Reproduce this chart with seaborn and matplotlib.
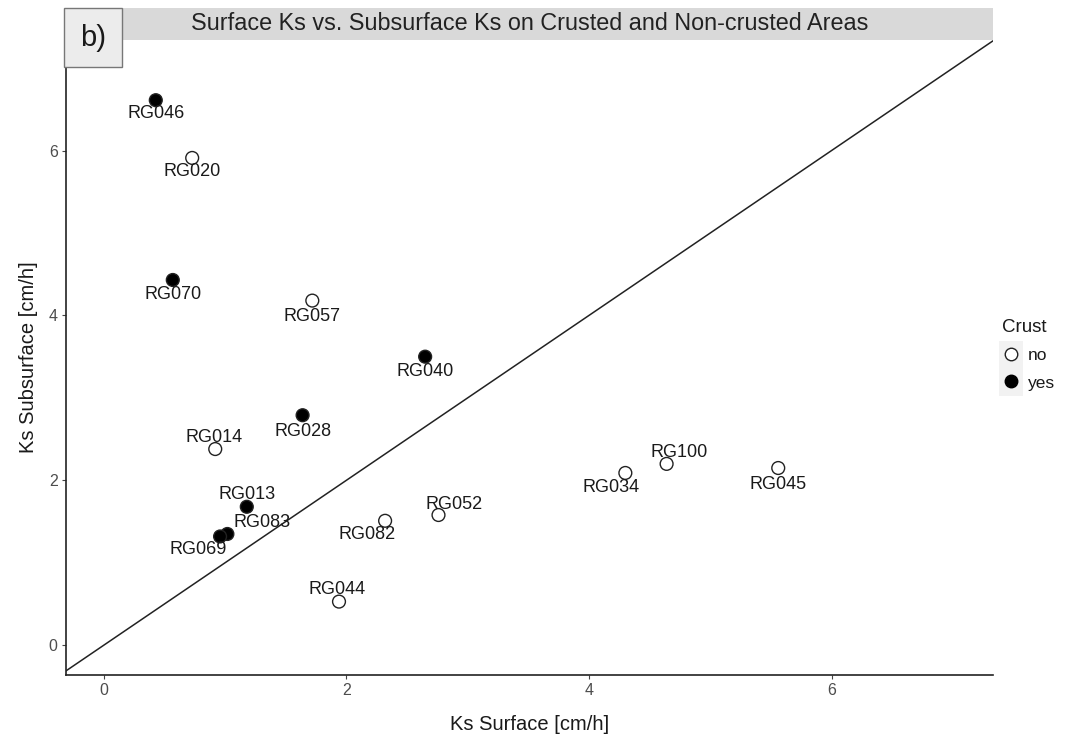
import matplotlib
matplotlib.use("Agg")
import matplotlib.pyplot as plt
from matplotlib.lines import Line2D
from matplotlib.patches import Rectangle
import seaborn as sns
import pandas as pd

# ---- data ----
sites = ["RG046", "RG020", "RG070", "RG057", "RG040", "RG028", "RG014", "RG013",
         "RG083", "RG069", "RG082", "RG052", "RG044", "RG034", "RG100", "RG045"]
ks_surface = [0.43, 0.73, 0.57, 1.72, 2.65, 1.64, 0.92, 1.18,
              1.02, 0.96, 2.32, 2.76, 1.94, 4.30, 4.64, 5.56]
ks_subsurface = [6.61, 5.91, 4.43, 4.18, 3.50, 2.79, 2.38, 1.68,
                 1.35, 1.32, 1.51, 1.58, 0.53, 2.09, 2.20, 2.15]
crust = ["yes", "no", "yes", "no", "yes", "yes", "no", "yes",
         "yes", "yes", "no", "no", "no", "no", "no", "no"]
crust_levels = ["no", "yes"]
ref_intercept = 0.0
ref_slope = 1.0
x_ticks = [0, 2, 4, 6]
y_ticks = [0, 2, 4, 6]

# label offsets (pixels) for repelled labels
label_offsets = {
    "RG046": (0, -13), "RG020": (0, -14), "RG070": (0, -15), "RG057": (0, -16),
    "RG040": (0, -15), "RG028": (0, -16), "RG014": (-1, 12), "RG013": (0, 12),
    "RG083": (35, 11), "RG069": (-22, -13), "RG082": (-18, -14), "RG052": (16, 11),
    "RG044": (-2, 12), "RG034": (-14, -15), "RG100": (13, 11), "RG045": (0, -16),
}

df = pd.DataFrame({"site": sites, "surface": ks_surface,
                   "subsurface": ks_subsurface, "Crust": crust})

sns.set_theme(style="white")
plt.rcParams["font.family"] = ["Liberation Sans", "DejaVu Sans"]

W, H = 1069, 742
fig = plt.figure(figsize=(W / 100, H / 100), dpi=100)
L, R, B, T = 66, 993, 675, 40
ax = fig.add_axes([L / W, 1 - B / H, (R - L) / W, (B - T) / H])

sns.scatterplot(data=df, x="surface", y="subsurface", hue="Crust",
                hue_order=crust_levels,
                palette={"no": "white", "yes": "black"},
                edgecolor="#222222", linewidth=1.0, s=85, ax=ax,
                legend=False, zorder=3)

ax.axline((0, ref_intercept), slope=ref_slope, color="#222222", lw=1.1, zorder=2)

for s_, x_, y_ in zip(sites, ks_surface, ks_subsurface):
    dx, dy = label_offsets[s_]
    ax.annotate(s_, (x_, y_), xytext=(dx * 0.72, dy * 0.72), textcoords="offset points",
                ha="center", va="center", fontsize=13, color="#1a1a1a", zorder=4)

ax.set_xlim(-0.31, 7.33)
ax.set_ylim(-0.36, 7.34)
ax.set_xticks(x_ticks)
ax.set_yticks(y_ticks)
ax.tick_params(axis="both", which="both", direction="out", length=3, width=0.8,
               color="#444444", labelcolor="#4d4d4d", labelsize=11.5, pad=3,
               bottom=True, left=True)
for side in ["top", "right"]:
    ax.spines[side].set_visible(False)
for side in ["left", "bottom"]:
    ax.spines[side].set_color("#222222")
    ax.spines[side].set_linewidth(1.2)
ax.set_xlabel("Ks Surface [cm/h]", fontsize=14.5, color="#1a1a1a", labelpad=12)
ax.set_ylabel("Ks Subsurface [cm/h]", fontsize=14.5, color="#1a1a1a", labelpad=8)

# facet strip with title
fig.patches.append(Rectangle((L / W, 1 - T / H), (R - L) / W, 32 / H,
                             transform=fig.transFigure, facecolor="#d9d9d9",
                             edgecolor="none", zorder=1))
fig.text((L + R) / 2 / W, 1 - 24 / H,
         "Surface Ks vs. Subsurface Ks on Crusted and Non-crusted Areas",
         ha="center", va="center", fontsize=16.8, color="#222222")

# "b)" panel tag
fig.patches.append(Rectangle((64 / W, 1 - 67 / H), 58 / W, 59 / H,
                             transform=fig.transFigure, facecolor="#ececec",
                             edgecolor="#777777", linewidth=1.0, zorder=5))
fig.text(93 / W, 1 - 38 / H, "b)", ha="center", va="center", fontsize=21,
         color="#1a1a1a", zorder=6)

# legend
handles = [Line2D([], [], marker="o", linestyle="none", markersize=9,
                  markerfacecolor="white", markeredgecolor="#222222", markeredgewidth=1.0),
           Line2D([], [], marker="o", linestyle="none", markersize=9,
                  markerfacecolor="black", markeredgecolor="black")]
fig.patches.append(Rectangle((999 / W, 1 - 396 / H), 24 / W, 55 / H,
                             transform=fig.transFigure, facecolor="#f2f2f2",
                             edgecolor="none", zorder=1))
leg = fig.legend(handles, crust_levels, title="Crust", loc="upper left",
                 bbox_to_anchor=(995 / W, 1 - 312 / H), frameon=False,
                 fontsize=12.5, title_fontsize=13.5, handlelength=1.0,
                 handletextpad=0.5, labelspacing=0.7, borderaxespad=0)
leg._legend_box.align = "left"
for t in leg.get_texts():
    t.set_color("#1a1a1a")
leg.get_title().set_color("#1a1a1a")

fig.savefig("out.png", dpi=100)
